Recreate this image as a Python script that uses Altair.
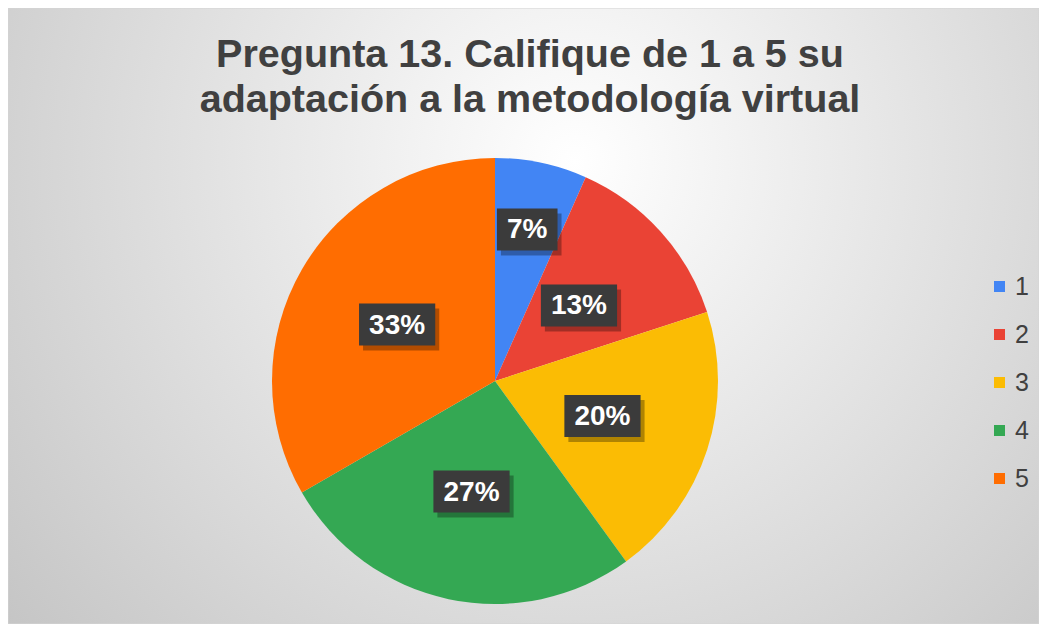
import altair as alt
import pandas as pd

# ---- data ----
categories = ["1", "2", "3", "4", "5"]
values = [1, 2, 3, 4, 5]
colors = ["#4285F4", "#EA4335", "#FBBC04", "#34A853", "#FF6D01"]
title_lines = ["Pregunta 13. Califique de 1 a 5 su", "adaptación a la metodología virtual"]

# ---- layout ----
W, H = 1031, 616
CX, CY, R = 487, 373, 223
FONT = "Liberation Sans"

df = pd.DataFrame({"cat": categories, "val": values})

bg = alt.Chart(alt.Data(values=[{"k": 0}])).mark_rect(
    fill=alt.Gradient(
        gradient="radial",
        stops=[alt.GradientStop(color="#ffffff", offset=0),
               alt.GradientStop(color="#c2c2c2", offset=1)],
        x1=0.55, y1=0.35, r1=0, x2=0.55, y2=0.35, r2=0.75),
    stroke="#d4d4d4", strokeWidth=1,
).encode(x=alt.value(0), x2=alt.value(W), y=alt.value(0), y2=alt.value(H))

pie = alt.Chart(df).mark_arc(radius=R).encode(
    theta=alt.Theta("val:Q", stack=True),
    color=alt.Color(
        "cat:N",
        scale=alt.Scale(domain=categories, range=colors),
        legend=alt.Legend(
            title=None, orient="none", legendX=979, legendY=266,
            symbolType="square", symbolSize=121, symbolStrokeWidth=0,
            labelFontSize=25, labelColor="#404040", labelFont=FONT,
            rowPadding=22, labelOffset=3,
        ),
    ),
    order=alt.Order("cat:N", sort="ascending"),
    x=alt.value(CX), y=alt.value(CY),
)

lab = alt.Chart(df).transform_joinaggregate(
    total="sum(val)"
).transform_window(
    cum="sum(val)", sort=[alt.SortField("cat", order="ascending")], frame=[None, 0]
).transform_calculate(
    mid="(datum.cum - datum.val/2)/datum.total*2*PI",
    rr="datum.cat == '1' ? 155 : 113",
).transform_calculate(
    lx=f"{CX} + datum.rr*sin(datum.mid)",
    ly=f"{CY} - datum.rr*cos(datum.mid)",
    txt="round(datum.val/datum.total*100) + '%'",
).transform_calculate(
    bw="20 + 15.6*(length(datum.txt)-1) + 25",
).transform_calculate(
    bx1="datum.lx - datum.bw/2", bx2="datum.lx + datum.bw/2",
    by1="datum.ly - 21", by2="datum.ly + 21",
    sx1="datum.lx - datum.bw/2 + 4", sx2="datum.lx + datum.bw/2 + 4",
    sy1="datum.ly - 21 + 5", sy2="datum.ly + 21 + 5",
)

shadow = lab.mark_rect(fill="#000000", opacity=0.3).encode(
    x=alt.X("sx1:Q", scale=None, axis=None), x2="sx2:Q",
    y=alt.Y("sy1:Q", scale=None, axis=None), y2="sy2:Q",
)
box = lab.mark_rect(fill="#3b3b3b").encode(
    x=alt.X("bx1:Q", scale=None, axis=None), x2="bx2:Q",
    y=alt.Y("by1:Q", scale=None, axis=None), y2="by2:Q",
)
text = lab.mark_text(
    font=FONT, fontWeight="bold", fontSize=28, color="#ffffff",
    align="center", baseline="middle", dy=1,
).encode(
    x=alt.X("lx:Q", scale=None, axis=None),
    y=alt.Y("ly:Q", scale=None, axis=None),
    text="txt:N",
)

title = alt.Chart(
    alt.Data(values=[{"t": t, "i": i} for i, t in enumerate(title_lines)])
).transform_calculate(
    ty="59 + 45*datum.i"
).mark_text(
    font=FONT, fontWeight="bold", fontSize=39.5, color="#404040",
    align="center", baseline="alphabetic",
).encode(
    x=alt.value(522),
    y=alt.Y("ty:Q", scale=None, axis=None),
    text="t:N",
)

chart = alt.layer(bg, pie, shadow, box, text, title).properties(
    width=W, height=H, padding=0, autosize="none"
).configure_view(stroke=None)

chart.save("out.html", embed_options={"renderer": "svg", "actions": False})
